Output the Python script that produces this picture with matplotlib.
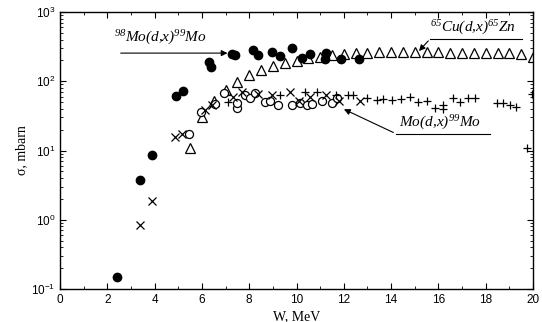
import matplotlib
matplotlib.use("Agg")
import matplotlib.pyplot as plt
from matplotlib.ticker import FixedLocator, LogLocator, NullFormatter

plt.rcParams["font.family"] = ["Liberation Sans", "DejaVu Sans"]
plt.rcParams["mathtext.fontset"] = "custom"
plt.rcParams["mathtext.rm"] = "Liberation Serif:italic"
plt.rcParams["mathtext.it"] = "Liberation Serif:italic"

# 98Mo(d,x)99Mo - filled circles
mo98_w = [2.4, 3.4, 3.9, 4.9, 5.2, 6.3, 6.38, 7.27, 7.4, 8.16, 8.37, 8.96, 9.3,
          9.81, 10.23, 10.57, 11.25, 11.2, 11.88, 12.64]
mo98_s = [0.15, 3.8, 8.7, 62, 72, 190, 160, 250, 240, 282, 240, 265, 232,
          302, 217, 247, 256, 210, 210, 210]

# 65Cu(d,x)65Zn - triangles
cu_w = [5.5, 6.0, 6.5, 7.0, 7.5, 8.0, 8.5, 9.0, 9.5, 10.0, 10.5, 11.0, 11.5, 12.0,
        12.5, 13.0, 13.5, 14.0, 14.5, 15.0, 15.5, 16.0, 16.5, 17.0, 17.5, 18.0,
        18.5, 19.0, 19.5, 20.0]
cu_s = [10.9, 30, 52, 75, 98, 123, 145, 166, 184, 196, 217, 224, 240, 248,
        255, 255, 264, 264, 264, 264, 264, 264, 260, 260, 260, 258, 255, 252, 245, 224]

# natMo(d,x)99Mo - open circles
oc_w = [5.45, 5.96, 6.55, 6.93, 7.48, 7.5, 7.82, 8.03, 8.25, 8.67, 8.88, 9.2,
        9.8, 10.15, 10.44, 10.65, 11.08, 11.5, 11.7]
oc_s = [17.5, 36, 47, 68, 41, 49, 63, 57, 68, 50, 52, 45,
        45, 48, 45, 47, 52, 48, 57]

# natMo(d,x)99Mo - crosses
cx_w = [3.38, 3.9, 4.86, 5.16, 6.13, 6.43, 7.3, 7.7, 8.37, 8.96, 9.73, 10.1,
        10.57, 11.25, 11.8, 12.7]
cx_s = [0.84, 1.86, 15.7, 17.5, 38, 45, 59, 70, 66, 63, 70, 52,
        59, 63, 52, 52]

# natMo(d,x)99Mo - plus signs
pl_w = [7.1, 9.3, 10.36, 10.87, 11.67, 12.18, 12.4, 12.98, 13.4, 13.66, 14.04,
        14.4, 14.8, 15.14, 15.5, 15.86, 16.2, 16.2, 16.6, 16.9, 17.25, 17.55,
        18.48, 18.73, 19.03, 19.3, 19.75, 19.95]
pl_s = [50, 63, 70, 70, 63, 63, 63, 57, 54, 55, 54,
        55, 59, 50, 52, 41, 45, 40, 57, 50, 57, 57,
        48, 48, 45, 42, 10.9, 65]

fig = plt.figure(figsize=(5.42, 3.22), dpi=100)
ax = fig.add_axes([0.1107, 0.1025, 0.8727, 0.8602])

ax.plot(cu_w, cu_s, linestyle="none", marker="^", ms=7, mfc="white", mec="black", mew=0.9)
ax.plot(oc_w, oc_s, linestyle="none", marker="o", ms=5.8, mfc="white", mec="black", mew=0.9)
ax.plot(cx_w, cx_s, linestyle="none", marker="x", ms=6, color="black", mew=0.9)
ax.plot(pl_w, pl_s, linestyle="none", marker="+", ms=5.5, color="black", mew=0.9)
ax.plot(mo98_w, mo98_s, linestyle="none", marker="o", ms=6, color="black")

ax.set_yscale("log")
ax.set_xlim(0, 20)
ax.set_ylim(0.1, 1000)
ax.xaxis.set_major_locator(FixedLocator(range(0, 21, 2)))
ax.xaxis.set_minor_locator(FixedLocator(range(1, 20, 2)))
ax.yaxis.set_major_locator(LogLocator(base=10, numticks=10))
ax.yaxis.set_minor_locator(LogLocator(base=10, subs=range(2, 10), numticks=10))
ax.yaxis.set_minor_formatter(NullFormatter())
ax.tick_params(which="both", direction="in", top=True, right=True, labelsize=8.5)
ax.tick_params(which="major", length=4, width=0.8)
ax.tick_params(which="minor", length=2, width=0.6)
for s in ax.spines.values():
    s.set_linewidth(1.0)

serif = "Liberation Serif"
ax.set_xlabel("W, MeV", family=serif, fontsize=10)
ax.xaxis.set_label_coords(0.5, -0.075)
ax.set_ylabel("σ, mbarn", family=serif, fontsize=10, labelpad=2)

ann = dict(family=serif, style="italic", fontsize=11)
ax.annotate("", xy=(7.2, 255), xytext=(2.45, 255),
            arrowprops=dict(arrowstyle="-|>", color="black", lw=0.8, mutation_scale=9))
ax.text(2.3, 310, r"$^{98}$Mo(d,x)$^{99}$Mo", ha="left", va="bottom", **ann)

ax.plot([15.65, 19.55], [410, 410], color="black", lw=0.8)
ax.annotate("", xy=(15.1, 255), xytext=(15.65, 410),
            arrowprops=dict(arrowstyle="-|>", color="black", lw=0.8, mutation_scale=9))
ax.text(15.65, 430, r"$^{65}$Cu(d,x)$^{65}$Zn", ha="left", va="bottom", **ann)

ax.plot([14.2, 18.2], [17.5, 17.5], color="black", lw=0.8)
ax.annotate("", xy=(11.9, 41), xytext=(14.2, 17.5),
            arrowprops=dict(arrowstyle="-|>", color="black", lw=0.8, mutation_scale=9))
ax.text(14.35, 18.5, r"Mo(d,x)$^{99}$Mo", ha="left", va="bottom", **ann)

fig.savefig("out.png", dpi=100)
